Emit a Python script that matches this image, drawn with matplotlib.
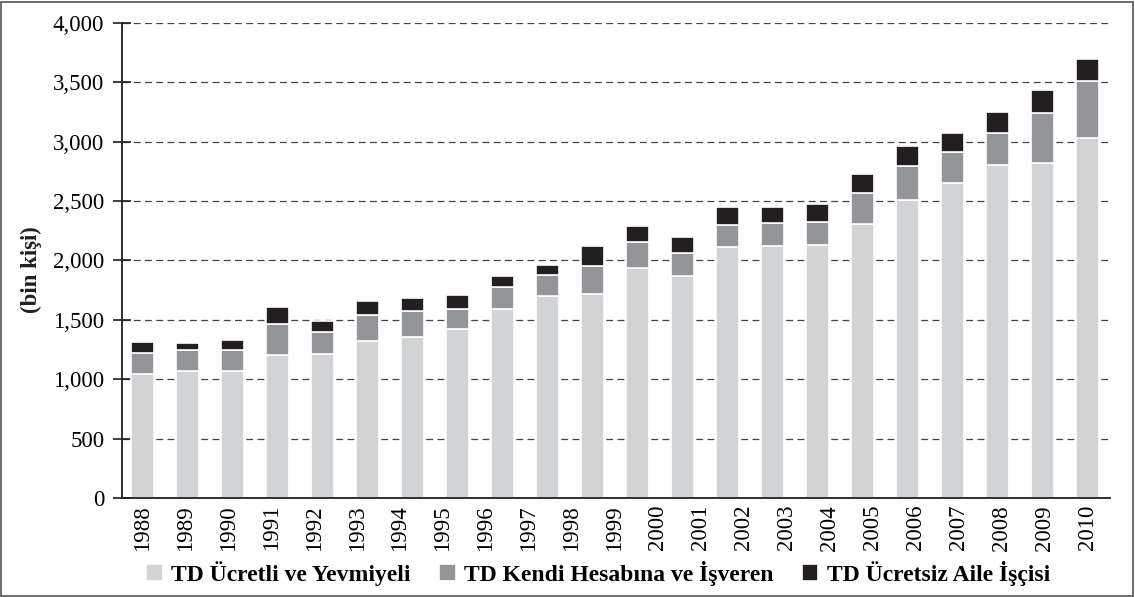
import matplotlib
matplotlib.use("Agg")
import matplotlib.pyplot as plt
import numpy as np
from matplotlib.patches import Rectangle

plt.rcParams["font.family"] = ["Liberation Serif", "DejaVu Serif"]

# 23 year labels, but only 22 bars are drawn in the source chart
years = [str(y) for y in range(1988, 2011)]

# thousand persons, stacked segments
ucretli = [1040, 1065, 1065, 1201, 1209, 1322, 1353, 1421, 1590, 1700, 1721,
           1939, 1870, 2110, 2119, 2127, 2305, 2506, 2654, 2799, 2819, 3031]
kendi = [178, 178, 178, 262, 187, 218, 221, 170, 185, 175, 232,
         213, 191, 191, 198, 198, 265, 292, 255, 277, 422, 476]
ucretsiz = [95, 64, 87, 147, 90, 121, 112, 115, 95, 88, 167,
            138, 138, 146, 136, 153, 158, 165, 159, 170, 192, 190]

series_names = ["TD Ücretli ve Yevmiyeli",
                "TD Kendi Hesabına ve İşveren",
                "TD Ücretsiz Aile İşçisi"]
colors = ["#d1d3d4", "#939598", "#231f20"]
yticks = [0, 500, 1000, 1500, 2000, 2500, 3000, 3500, 4000]

fig = plt.figure(figsize=(11.35, 5.97), dpi=100)
ax = fig.add_axes([0.1072, 0.1658, 0.8708, 0.7961])

x = np.arange(len(ucretli))
bottom = np.zeros(len(ucretli))
handles = []
for vals, name, col in zip([ucretli, kendi, ucretsiz], series_names, colors):
    b = ax.bar(x, vals, width=0.51, bottom=bottom, color=col,
               edgecolor="white", linewidth=1.2, label=name, zorder=2)
    handles.append(b)
    bottom += np.array(vals)

ax.set_xlim(-0.46, len(ucretli) - 0.49)
ax.set_ylim(0, 4000)
ax.set_yticks(yticks)
ax.set_yticklabels([f"{v:,}" for v in yticks], fontsize=16.5)
ax.set_xticks(np.linspace(0, len(ucretli) - 1, len(years)))
ax.set_xticklabels(years, rotation=90, fontsize=16.5)
ax.tick_params(axis="x", length=0, pad=5)
ax.tick_params(axis="y", direction="inout", length=13, width=1.2, pad=6,
               color="#231f20")

ax.yaxis.grid(True, color="#444444", linewidth=0.9,
              linestyle=(0, (5.5, 3.5)), zorder=0)
ax.set_axisbelow(True)

for side in ["top", "right"]:
    ax.spines[side].set_visible(False)
for side in ["left", "bottom"]:
    ax.spines[side].set_color("#231f20")
    ax.spines[side].set_linewidth(1.3)
    ax.spines[side].set_zorder(3)

fig.text(31 / 1135, 0.548, "(bin kişi)", rotation=90, fontsize=16.5,
         fontweight="bold", ha="center", va="center", color="#231f20")

fig.legend(handles=handles, labels=series_names, loc="center",
           bbox_to_anchor=(0.527, 0.04), ncol=3, frameon=False,
           prop={"size": 17, "weight": "bold"}, handlelength=0.7,
           handleheight=0.7, handletextpad=0.35, columnspacing=1.2,
           borderaxespad=0)

fig.patches.append(Rectangle((0.001, 0.002), 0.997, 0.995,
                             transform=fig.transFigure, fill=False,
                             edgecolor="#555555", linewidth=1.2))

fig.savefig("out.png", dpi=100)
